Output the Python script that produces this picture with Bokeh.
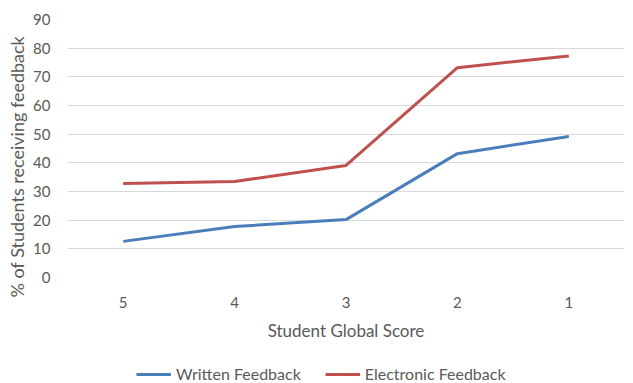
from bokeh.plotting import figure
from bokeh.models import Range1d, Legend, LegendItem, Title
from bokeh.layouts import column
from bokeh.embed import file_html
from bokeh.resources import INLINE

scores = ["5", "4", "3", "2", "1"]
written = [12.6, 17.8, 20.2, 43.2, 49.2]
electronic = [32.8, 33.5, 39.1, 73.2, 77.3]
y_ticks = [0, 10, 20, 30, 40, 50, 60, 70, 80, 90]

FONT = "Lato"
TXT = "#595959"
BLUE = "#4a7ebb"
RED = "#c0504d"

p = figure(width=633, height=355, x_range=scores, y_range=Range1d(0, 90),
           output_backend="svg", toolbar_location=None,
           min_border_left=66, min_border_right=9, min_border_top=19, min_border_bottom=78)
p.outline_line_color = None
p.xgrid.grid_line_color = None
p.ygrid.grid_line_color = "#d9d9d9"
p.ygrid.grid_line_width = 1
p.yaxis.ticker = y_ticks

for ax in (p.xaxis, p.yaxis):
    ax.axis_line_color = None
    ax.major_tick_line_color = None
    ax.minor_tick_line_color = None
    ax.major_label_text_font = FONT
    ax.major_label_text_font_size = "15px"
    ax.major_label_text_color = TXT
    ax.axis_label_text_font = FONT
    ax.axis_label_text_font_size = "17px"
    ax.axis_label_text_color = TXT
    ax.axis_label_text_font_style = "normal"

p.xaxis.axis_label = "Student Global Score"
p.xaxis.major_label_standoff = 13
p.xaxis.axis_label_standoff = 9
p.yaxis.major_label_standoff = 11

ytitle = Title(text="% of Students receiving feedback", align="left", offset=-20,
               text_font=FONT, text_font_size="18px", text_color=TXT,
               text_font_style="normal", standoff=6)
p.add_layout(ytitle, "left")

p.line(scores, written, line_color=BLUE, line_width=3)
p.line(scores, electronic, line_color=RED, line_width=3)

# legend strip below the chart
lg = figure(width=633, height=28, x_range=scores, y_range=Range1d(1000, 1001),
            output_backend="svg", toolbar_location=None,
            x_axis_location=None, y_axis_location=None,
            min_border_left=0, min_border_right=0, min_border_top=0, min_border_bottom=0)
lg.outline_line_color = None
lg.grid.grid_line_color = None
l1 = lg.line(scores, written, line_color=BLUE, line_width=3)
l2 = lg.line(scores, electronic, line_color=RED, line_width=3)

legend = Legend(items=[LegendItem(label="Written Feedback", renderers=[l1]),
                       LegendItem(label="Electronic Feedback", renderers=[l2])],
                orientation="horizontal", location=(69, 0),
                border_line_color=None, background_fill_alpha=0,
                label_text_font=FONT, label_text_font_size="16px",
                label_text_color=TXT, glyph_width=35, glyph_height=14,
                label_height=14, label_standoff=5,
                spacing=24, padding=0, margin=0)
lg.add_layout(legend, "center")

open("out.html", "w").write(file_html(column(p, lg, spacing=0), INLINE))
